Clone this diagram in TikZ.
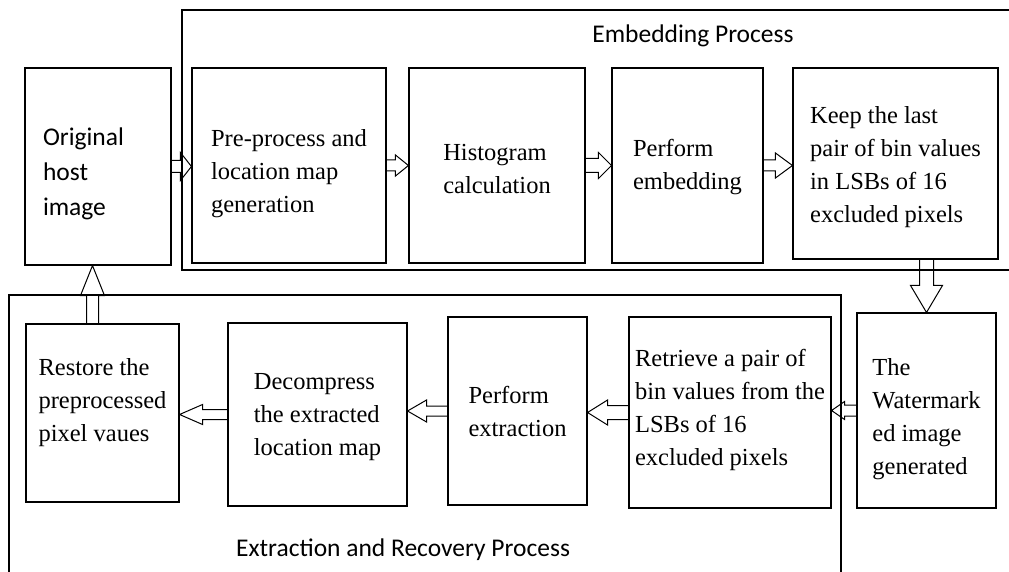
\documentclass[tikz,border=0pt]{standalone}
\usepackage{fontspec}
\setmainfont{Liberation Serif}
\newfontfamily\calibri{Carlito}
\usetikzlibrary{calc}

\newcommand{\boxfont}{\fontsize{24.5}{33}\selectfont}
\newcommand{\labfont}{\calibri\fontsize{25.5}{35}\selectfont}

% hollow block arrow: from, to, shaft half width, head half width, head length
\newcommand{\blockarrow}[5]{%
  \coordinate (ba-s) at (#1);
  \coordinate (ba-e) at (#2);
  \coordinate (ba-b) at ($(ba-e)!#5!(ba-s)$);
  \draw[blockarr] ($(ba-s)!#3!90:(ba-e)$) -- ($(ba-b)!#3!-90:(ba-s)$)
    -- ($(ba-b)!#4!-90:(ba-s)$) -- (ba-e) -- ($(ba-b)!#4!90:(ba-s)$)
    -- ($(ba-b)!#3!90:(ba-s)$) -- ($(ba-s)!#3!-90:(ba-e)$);
}

\tikzset{
  stage/.style={draw, line width=1.1pt, inner sep=0pt},
  txt/.style={align=left, font=\boxfont, inner sep=0pt},
  blockarr/.style={line width=1pt, line join=miter},
  frame/.style={line width=1.1pt},
}

\begin{document}
\begin{tikzpicture}[x=1pt,y=-1pt]
	\useasboundingbox (0,0) rectangle (1009,572);

	% the two process frames
	\draw[frame] (1009,10) -- (182,10) -- (182,270) -- (1009,270);
	\draw[frame] (9,572) -- (9,295) -- (841,295) -- (841,572);
	\node[font=\labfont] (embtitle) at (693,36) {Embedding Process};
	\node[font=\labfont] (exttitle) at (403,550) {Extraction and Recovery Process};

	% embedding row
	\node[stage, minimum width=146pt, minimum height=197pt,
	  label={[txt, font=\labfont, text width=110pt, yshift=-7pt]center:{Original\\host\\image}}] (orig) at (98,166.5) {};
	\node[stage, minimum width=194pt, minimum height=195pt,
	  label={[txt, yshift=-8pt]center:{Pre-process and\\location map\\generation}}] (pre) at (289,165.5) {};
	\node[stage, minimum width=176pt, minimum height=195pt,
	  label={[txt, yshift=-4pt]center:{Histogram\\calculation}}] (hist) at (497,165.5) {};
	\node[stage, minimum width=151pt, minimum height=195pt,
	  label={[txt, yshift=-2pt]center:{Perform\\embedding}}] (perf) at (687.5,165.5) {};
	\node[stage, minimum width=205pt, minimum height=191pt,
	  label={[txt, yshift=-4pt]center:{Keep the last\\pair of bin values\\in LSBs of 16\\excluded pixels}}] (keep) at (895.5,163.5) {};

	% extraction row
	\node[stage, minimum width=139pt, minimum height=195pt,
	  label={[txt, yshift=-9pt]center:{The\\Watermark\\ed image\\generated}}] (water) at (926.5,410.5) {};
	\node[stage, minimum width=202pt, minimum height=191pt,
	  label={[txt, yshift=3pt]center:{Retrieve a pair of\\bin values from the\\LSBs of 16\\excluded pixels}}] (retr) at (730,412.5) {};
	\node[stage, minimum width=139pt, minimum height=188pt,
	  label={[txt]center:{Perform\\extraction}}] (pext) at (517.5,411) {};
	\node[stage, minimum width=179pt, minimum height=183pt,
	  label={[txt, yshift=-3pt]center:{Decompress\\the extracted\\location map}}] (decomp) at (317.5,414.5) {};
	\node[stage, minimum width=153pt, minimum height=178pt,
	  label={[txt, yshift=10pt]center:{Restore the\\preprocessed\\pixel vaues}}] (restore) at (102.5,413) {};

	% block arrows
	\blockarrow{orig.east}{pre.west |- orig.east}{6pt}{14pt}{11pt}
	\blockarrow{pre.east}{hist.west}{5.5pt}{10.5pt}{13pt}
	\blockarrow{hist.east}{perf.west}{7pt}{13pt}{13pt}
	\blockarrow{perf.east}{keep.west |- perf.east}{5.5pt}{12.5pt}{17pt}
	\blockarrow{keep.south -| water.north}{water.north}{7pt}{16pt}{27pt}
	\blockarrow{water.west}{retr.east |- water.west}{5.5pt}{9pt}{13pt}
	\blockarrow{retr.west}{pext.east |- retr.west}{7pt}{12.5pt}{20pt}
	\blockarrow{pext.west}{decomp.east |- pext.west}{5pt}{11pt}{19pt}
	\blockarrow{decomp.west}{restore.east |- decomp.west}{5pt}{10pt}{23pt}
	\blockarrow{$(restore.north)+(-10,0)$}{ba-s |- orig.south}{6pt}{12pt}{30pt}
\end{tikzpicture}
\end{document}
